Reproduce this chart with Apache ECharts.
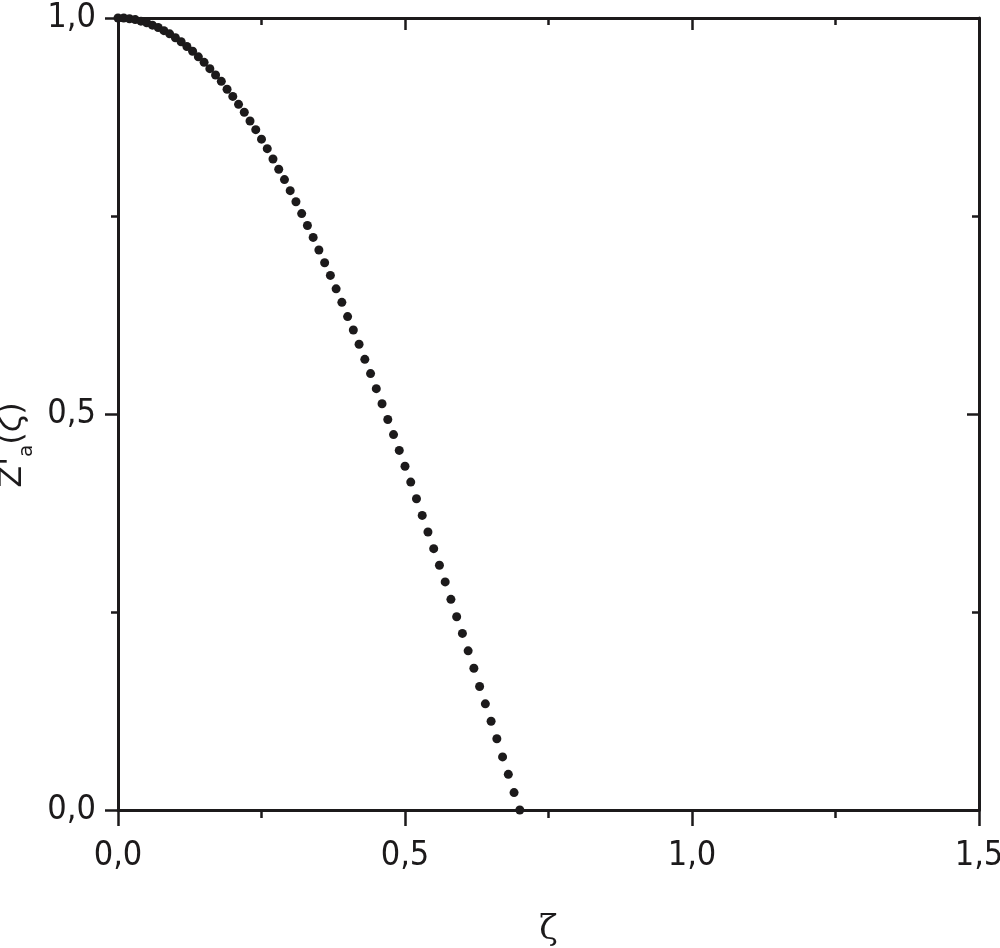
<!DOCTYPE html>
<html>
<head>
<meta charset="utf-8">
<script src="https://cdn.jsdelivr.net/npm/echarts@6/dist/echarts.min.js"></script>
<style>
html,body{margin:0;padding:0;background:#fff;}
#c{width:1000px;height:948px;}
</style>
</head>
<body>
<div id="c"></div>
<script>
// zeta values (x axis)
const zeta = [
0.00,0.01,0.02,0.03,0.04,0.05,0.06,0.07,0.08,0.09,
0.10,0.11,0.12,0.13,0.14,0.15,0.16,0.17,0.18,0.19,
0.20,0.21,0.22,0.23,0.24,0.25,0.26,0.27,0.28,0.29,
0.30,0.31,0.32,0.33,0.34,0.35,0.36,0.37,0.38,0.39,
0.40,0.41,0.42,0.43,0.44,0.45,0.46,0.47,0.48,0.49,
0.50,0.51,0.52,0.53,0.54,0.55,0.56,0.57,0.58,0.59,
0.60,0.61,0.62,0.63,0.64,0.65,0.66,0.67,0.68,0.69,
0.70
];
// Z'a(zeta) values
const za = [
1.000,1.000,0.999,0.998,0.996,0.994,0.991,0.988,0.984,0.980,
0.975,0.970,0.964,0.958,0.951,0.944,0.936,0.928,0.920,0.910,
0.901,0.891,0.881,0.870,0.859,0.847,0.835,0.822,0.809,0.796,
0.782,0.768,0.753,0.738,0.723,0.707,0.691,0.675,0.658,0.641,
0.623,0.606,0.588,0.569,0.551,0.532,0.513,0.493,0.474,0.454,
0.434,0.414,0.393,0.372,0.351,0.330,0.309,0.288,0.266,0.244,
0.223,0.201,0.179,0.156,0.134,0.112,0.090,0.067,0.045,0.022,
0.000
];
const xTicks = ['0,0','0,5','1,0','1,5'];
const yTicks = ['0,0','0,5','1,0'];

const INK = '#1c1a1b';
const LABEL_FONT = '"Liberation Sans Narrow","DejaVu Sans Condensed","Liberation Sans",sans-serif';
const TITLE_FONT = '"DejaVu Sans","Liberation Sans",sans-serif';

const chart = echarts.init(document.getElementById('c'), null, {renderer:'canvas'});
const data = zeta.map((x,i)=>[x, za[i]]);

const baseAxis = {
  type:'value',
  axisLine:{show:true, onZero:false, lineStyle:{color:INK, width:3}},
  splitLine:{show:false},
  minorTick:{show:true, splitNumber:2, length:8, lineStyle:{color:INK, width:2.5}},
  axisTick:{show:true, length:16, lineStyle:{color:INK, width:2.5}}
};

chart.setOption({
  animation:false,
  backgroundColor:'#fff',
  grid:{left:118, right:21, top:18, bottom:138, containLabel:false, outerBoundsMode:'none'},
  xAxis:[
    Object.assign({}, baseAxis, {
      position:'bottom', min:0, max:1.5, interval:0.5,
      axisLabel:{show:true, margin:29, fontSize:34, fontFamily:LABEL_FONT, color:INK,
        formatter:v=>xTicks[Math.round(v/0.5)]},
      name:'ζ', nameLocation:'middle', nameGap:103,
      nameTextStyle:{fontFamily:'"DejaVu Serif","Liberation Serif",serif', fontSize:34, color:INK}
    }),
    Object.assign({}, baseAxis, {
      position:'top', min:0, max:1.5, interval:0.5,
      axisLabel:{show:false},
      axisTick:{show:true, inside:true, length:12, lineStyle:{color:INK, width:2.5}},
      minorTick:{show:true, splitNumber:2, length:7, lineStyle:{color:INK, width:2.5}}
    })
  ],
  yAxis:[
    Object.assign({}, baseAxis, {
      position:'left', min:0, max:1.0, interval:0.5,
      axisTick:{show:true, length:13, lineStyle:{color:INK, width:2.5}},
      minorTick:{show:true, splitNumber:2, length:7, lineStyle:{color:INK, width:2.5}},
      axisLabel:{show:true, margin:22, fontSize:34, fontFamily:LABEL_FONT, color:INK,
        formatter:v=>yTicks[Math.round(v/0.5)]},
      name:"{z|Z'}{s|a}{p|(ζ)}", nameLocation:'middle', nameRotate:90, nameGap:75,
      nameTextStyle:{
        padding:[0,62,0,0],
        rich:{
          z:{fontFamily:TITLE_FONT, fontSize:32, lineHeight:40, verticalAlign:'top', color:INK},
          s:{fontFamily:TITLE_FONT, fontSize:20, verticalAlign:'bottom', color:INK},
          p:{fontFamily:TITLE_FONT, fontSize:32, lineHeight:40, verticalAlign:'top', color:INK}
        }
      }
    }),
    Object.assign({}, baseAxis, {
      position:'right', min:0, max:1.0, interval:0.5,
      axisLabel:{show:false},
      axisTick:{show:true, inside:true, length:12, lineStyle:{color:INK, width:2.5}},
      minorTick:{show:true, splitNumber:2, length:7, lineStyle:{color:INK, width:2.5}}
    })
  ],
  series:[{
    type:'scatter',
    xAxisIndex:0, yAxisIndex:0,
    data:data,
    symbol:'circle',
    symbolSize:9,
    clip:false,
    itemStyle:{color:INK, opacity:1},
    z:5
  }]
});
</script>
</body>
</html>
